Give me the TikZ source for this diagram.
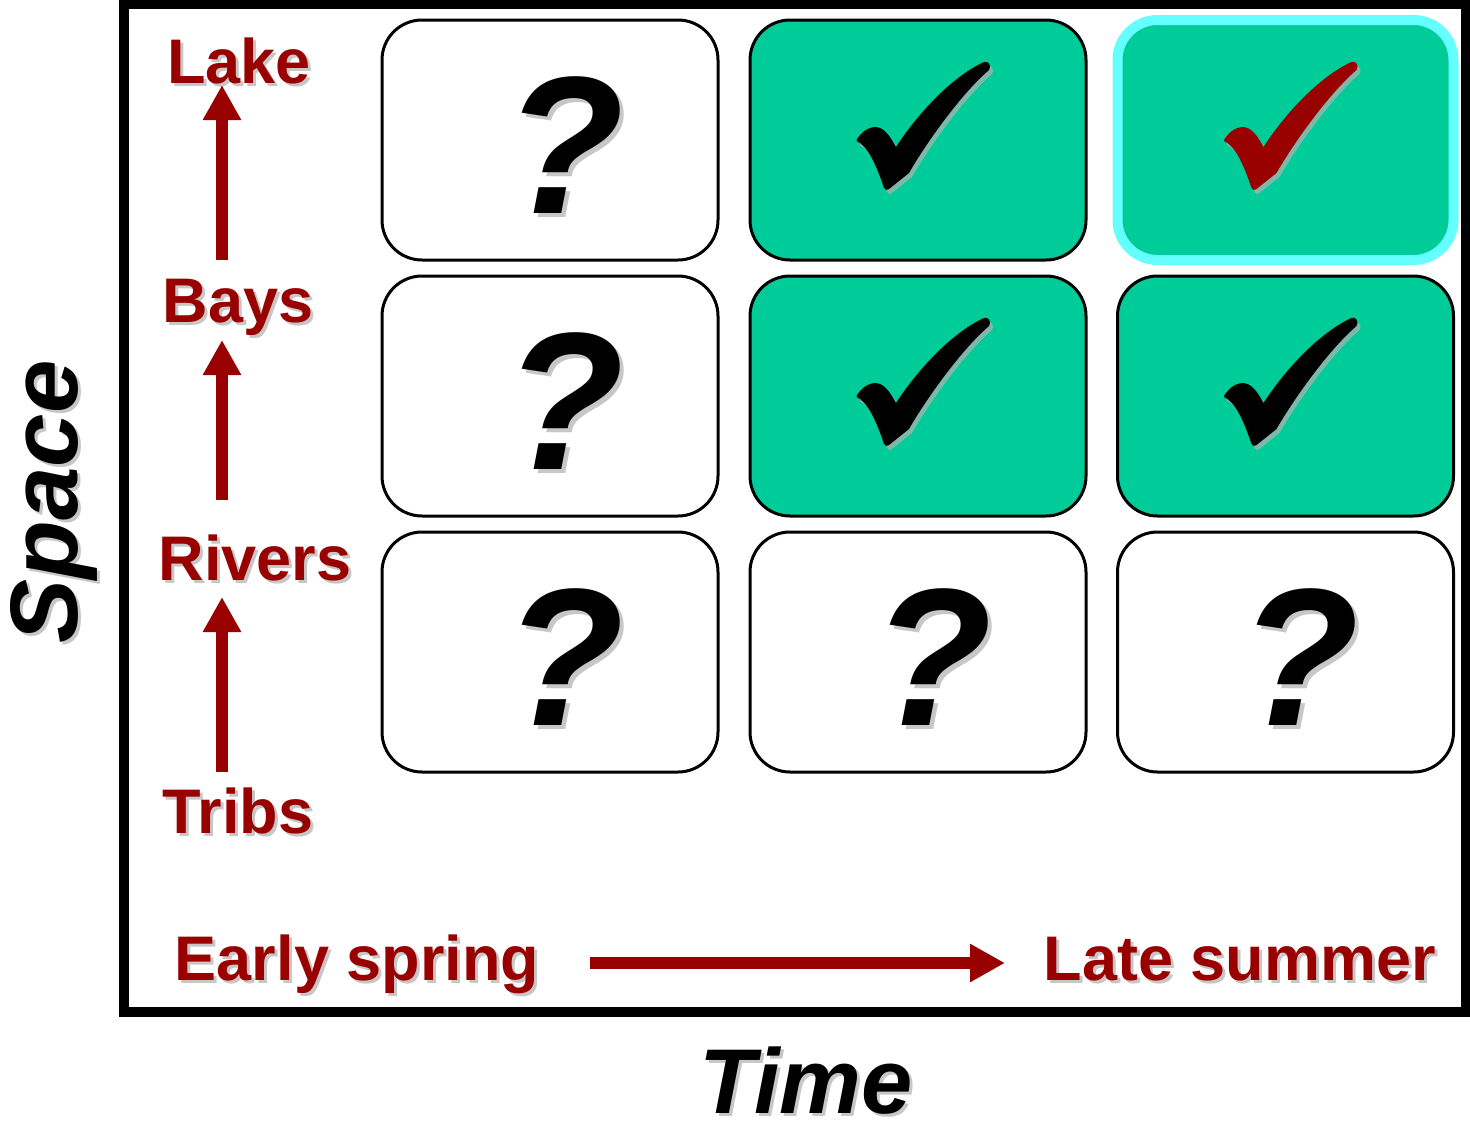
\documentclass[tikz,border=0pt]{standalone}
\usepackage{fontspec}
\setmainfont{Liberation Sans}
\usetikzlibrary{arrows.meta}
\definecolor{dred}{RGB}{153,0,0}
\definecolor{cgreen}{RGB}{0,204,153}
\definecolor{ccyan}{RGB}{102,255,255}
\newcommand\drawcheck[3]{%
\begin{scope}[shift={(#1,#2)}]
\fill[black!30,opacity=0.7,shift={(3,4)}] (-63,-1) .. controls (-58,-8) and (-52,-13) .. (-45,-13) .. controls (-36,-13) and (-30,-4) .. (-24,7) .. controls (0,-30) and (35,-65) .. (64,-78) .. controls (68,-80) and (72,-74) .. (69,-70) .. controls (40,-45) and (5,5) .. (-11,33) -- (-31,49) .. controls (-33,51) and (-35,50) .. (-36,48) .. controls (-42,30) and (-50,10) .. (-60,3) .. controls (-64,1) .. cycle;
\fill[#3] (-63,-1) .. controls (-58,-8) and (-52,-13) .. (-45,-13) .. controls (-36,-13) and (-30,-4) .. (-24,7) .. controls (0,-30) and (35,-65) .. (64,-78) .. controls (68,-80) and (72,-74) .. (69,-70) .. controls (40,-45) and (5,5) .. (-11,33) -- (-31,49) .. controls (-33,51) and (-35,50) .. (-36,48) .. controls (-42,30) and (-50,10) .. (-60,3) .. controls (-64,1) .. cycle;
\end{scope}}
\begin{document}
\begin{tikzpicture}[x=1pt,y=-1pt,
 cell/.style={draw=black, line width=3pt, rounded corners=40pt, minimum width=336pt, minimum height=240pt, inner sep=0pt},
 gcell/.style={cell, fill=cgreen},
 qm/.style={anchor=base, inner sep=0pt, font=\fontsize{196}{200}\selectfont\bfseries\itshape},
 lbl/.style={anchor=base, inner sep=0pt, text=dred, font=\fontsize{63}{70}\selectfont\bfseries},
 shd/.style={text=black!22},
 axislbl/.style={anchor=base, inner sep=0pt, font=\fontsize{92}{100}\selectfont\bfseries\itshape},
 arr/.style={draw=dred, line width=12pt, -{Triangle[width=36pt,length=35pt]}}
]
\useasboundingbox (0,0) rectangle (1470,1125);
% frame
\draw[line width=10pt] (124,4) rectangle (1466,1012);
% cells
\node[cell] (c11) at (550,140) {};
\node[gcell] (c12) at (918,140) {};
\node[gcell, draw=ccyan, line width=10pt] (c13) at (1285.5,140) {};
\node[cell] (c21) at (550,396) {};
\node[gcell] (c22) at (918,396) {};
\node[gcell] (c23) at (1285.5,396) {};
\node[cell] (c31) at (550,652) {};
\node[cell] (c32) at (918,652) {};
\node[cell] (c33) at (1285.5,652) {};
% question marks
\node[qm,shd] (q11s) at (568,217) {?};
\node[qm] (q11) at (564,213) {?};
\node[qm,shd] (q21s) at (568,473) {?};
\node[qm] (q21) at (564,469) {?};
\node[qm,shd] (q31s) at (568,729) {?};
\node[qm] (q31) at (564,725) {?};
\node[qm,shd] (q32s) at (936,729) {?};
\node[qm] (q32) at (932,725) {?};
\node[qm,shd] (q33s) at (1303.5,729) {?};
\node[qm] (q33) at (1299.5,725) {?};
% checks
\drawcheck{920}{140}{black}
\drawcheck{1287.5}{140}{dred}
\drawcheck{920}{396}{black}
\drawcheck{1287.5}{396}{black}
% space labels
\node[lbl,shd] (lakeS) at (242,86) {Lake};
\node[lbl] (lake) at (239,83) {Lake};
\node[lbl,shd] (baysS) at (241,325) {Bays};
\node[lbl] (bays) at (238,322) {Bays};
\node[lbl,shd] (riversS) at (258,583) {Rivers};
\node[lbl] (rivers) at (255,580) {Rivers};
\node[lbl,shd] (tribsS) at (241,836) {Tribs};
\node[lbl] (tribs) at (238,833) {Tribs};
\coordinate (a1s) at (222,260); \coordinate (a1e) at (222,85);
\coordinate (a2s) at (222,500); \coordinate (a2e) at (222,340);
\coordinate (a3s) at (222,772); \coordinate (a3e) at (222,597);
\draw[arr] (a1s) -- (a1e);
\draw[arr] (a2s) -- (a2e);
\draw[arr] (a3s) -- (a3e);
% time labels
\node[lbl,shd] (earlyS) at (360,983) {Early spring};
\node[lbl] (early) at (357,980) {Early spring};
\node[lbl,shd] (lateS) at (1243,983) {Late summer};
\node[lbl] (late) at (1240,980) {Late summer};
\coordinate (hs) at (590,963); \coordinate (he) at (1005,963);
\draw[arr] (hs) -- (he);
% axis titles
\node[axislbl,shd] (timeS) at (809,1116) {Time};
\node[axislbl] (time) at (806,1113) {Time};
\node[axislbl,shd,rotate=90,font=\fontsize{96}{100}\selectfont\bfseries\itshape] (spaceS) at (80,505) {Space};
\node[axislbl,rotate=90,font=\fontsize{96}{100}\selectfont\bfseries\itshape] (space) at (77,502) {Space};
\end{tikzpicture}
\end{document}
